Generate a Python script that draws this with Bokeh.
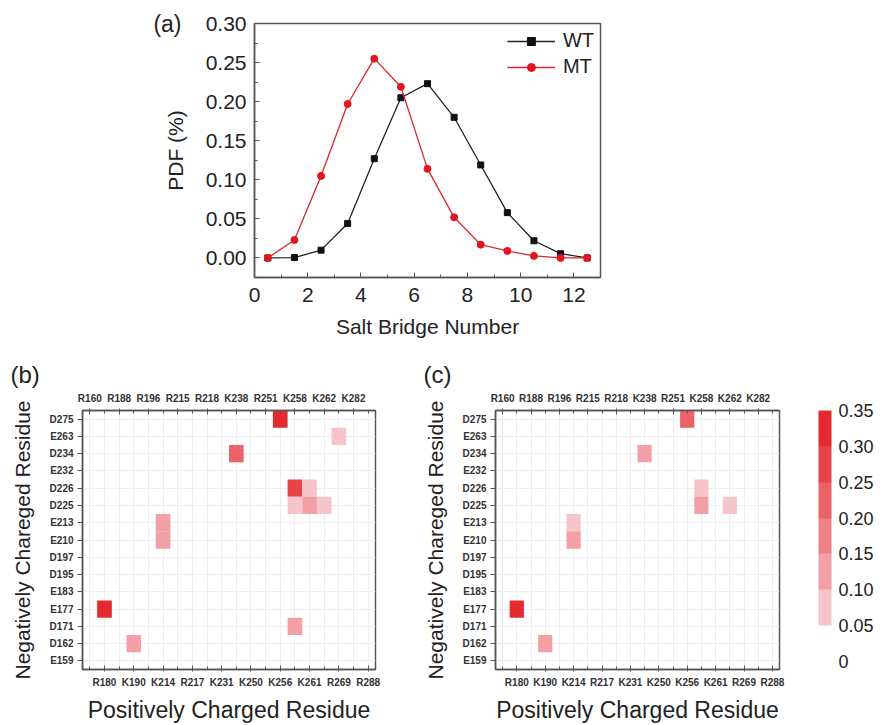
from bokeh.plotting import figure
from bokeh.models import (Range1d, FixedTicker, LinearAxis, Legend, LegendItem, Title,
                          LinearColorMapper, ColorBar, ColumnDataSource, NumeralTickFormatter)
from bokeh.layouts import column, row
from bokeh.embed import file_html
from bokeh.resources import INLINE

# ---------------- data ----------------
salt_bridge_number = [0.5, 1.5, 2.5, 3.5, 4.5, 5.5, 6.5, 7.5, 8.5, 9.5, 10.5, 11.5, 12.5]
wt_pdf = [0.000, 0.0005, 0.010, 0.044, 0.127, 0.205, 0.223, 0.180, 0.119, 0.058, 0.022, 0.0055, 0.000]
mt_pdf = [0.000, 0.023, 0.105, 0.197, 0.255, 0.219, 0.114, 0.052, 0.017, 0.009, 0.0026, 0.000, 0.000]

pos_residues = ["R160", "R180", "R188", "K190", "R196", "K214", "R215", "R217", "R218", "K231",
                "K238", "K250", "R251", "K256", "K258", "K261", "K262", "R269", "K282", "R288"]
neg_residues = ["E159", "D162", "D171", "E177", "E183", "D195", "D197", "E210", "E213", "D225",
                "D226", "E232", "D234", "E263", "D275"]

wt_pos = ["K256", "R269", "K238", "K258", "K261", "K258", "K261", "K262", "K214", "K214", "R180", "K258", "K190"]
wt_neg = ["D275", "E263", "D234", "D226", "D226", "D225", "D225", "D225", "E213", "E210", "E177", "D171", "D162"]
wt_val = [0.32, 0.07, 0.22, 0.27, 0.07, 0.07, 0.13, 0.07, 0.12, 0.12, 0.32, 0.13, 0.13]

mt_pos = ["K256", "K238", "K258", "K258", "K262", "K214", "K214", "R180", "K190"]
mt_neg = ["D275", "D234", "D226", "D225", "D225", "E213", "E210", "E177", "D162"]
mt_val = [0.22, 0.13, 0.07, 0.13, 0.07, 0.07, 0.13, 0.33, 0.13]

cbar_ticks = [0, 0.05, 0.10, 0.15, 0.20, 0.25, 0.30, 0.35]
palette = ["#ffffff", "#f6c5c9", "#f2a0a6", "#ee8187", "#eb6368", "#e7444a", "#e42a2e"]

FONT = "Liberation Sans"
AX = "#555555"
TXT = "#222222"

# ---------------- (a) line chart ----------------
p1 = figure(width=880, height=345, x_range=Range1d(0, 13), y_range=Range1d(-0.025, 0.30),
            output_backend="svg", toolbar_location=None,
            min_border_left=254, min_border_right=280, min_border_top=23, min_border_bottom=68)
p1.grid.visible = False
p1.outline_line_color = AX
p1.outline_line_width = 1.5

l_wt = p1.line(salt_bridge_number, wt_pdf, line_color="#222222", line_width=1.3)
m_wt = p1.scatter(salt_bridge_number, wt_pdf, marker="square", size=6, fill_color="#111111", line_color="#111111")
l_mt = p1.line(salt_bridge_number, mt_pdf, line_color="#d9272e", line_width=1.3)
m_mt = p1.scatter(salt_bridge_number, mt_pdf, marker="circle", size=7, fill_color="#e0161e", line_color="#e0161e")

for ax in (p1.below[0], p1.left[0]):
    ax.axis_line_color = AX
    ax.axis_line_width = 1.5
    ax.major_tick_line_color = AX
    ax.minor_tick_line_color = AX
    ax.major_tick_in = 5
    ax.major_tick_out = 0
    ax.minor_tick_in = 3
    ax.minor_tick_out = 0
    ax.major_label_text_font = FONT
    ax.major_label_text_font_size = "21px"
    ax.major_label_text_color = TXT
    ax.axis_label_text_font = FONT
    ax.axis_label_text_font_size = "21px"
    ax.axis_label_text_font_style = "normal"
    ax.axis_label_text_color = TXT

p1.below[0].ticker = FixedTicker(ticks=[0, 2, 4, 6, 8, 10, 12], minor_ticks=[1, 3, 5, 7, 9, 11, 13])
p1.left[0].ticker = FixedTicker(ticks=[0, 0.05, 0.10, 0.15, 0.20, 0.25, 0.30],
                                minor_ticks=[-0.025, 0.025, 0.075, 0.125, 0.175, 0.225, 0.275])
p1.left[0].formatter = NumeralTickFormatter(format="0.00")
p1.below[0].axis_label = "Salt Bridge Number"
p1.left[0].axis_label = "PDF (%)"
p1.below[0].major_label_standoff = 10
p1.left[0].major_label_standoff = 8
p1.below[0].axis_label_standoff = 10
p1.left[0].axis_label_standoff = 16

# panel tag "(a)" drawn as an outer, line-less axis label level with the top of the frame
tag_axis = LinearAxis(ticker=FixedTicker(ticks=[0.30]), major_label_overrides={0.3: "(a)"},
                      axis_line_color=None, major_tick_line_color=None, minor_tick_line_color=None,
                      major_label_standoff=-27, major_label_text_font=FONT,
                      major_label_text_font_size="23px", major_label_text_color=TXT)
p1.add_layout(tag_axis, "left")

legend = Legend(items=[LegendItem(label="WT", renderers=[l_wt, m_wt]),
                       LegendItem(label="MT", renderers=[l_mt, m_mt])],
                location="top_right", border_line_color=None, background_fill_alpha=0,
                label_text_font=FONT, label_text_font_size="20px", label_text_color=TXT,
                glyph_width=48, spacing=3, margin=6, padding=4, label_standoff=8)
p1.add_layout(legend)

# ---------------- heatmaps ----------------
mapper = LinearColorMapper(palette=palette, low=0, high=0.35)


def heatmap(pos, neg, val, tag, left, right, total_w):
    p = figure(width=total_w, height=380, x_range=Range1d(-0.5, 19.5), y_range=Range1d(-0.5, 14.5),
               output_backend="svg", toolbar_location=None,
               min_border_left=left, min_border_right=right, min_border_top=65, min_border_bottom=56)
    src = ColumnDataSource(dict(x=[pos_residues.index(a) for a in pos],
                                y=[neg_residues.index(b) for b in neg], v=val))
    p.rect("x", "y", width=1, height=1, source=src,
           fill_color={"field": "v", "transform": mapper}, line_color=None)
    p.outline_line_color = AX
    p.outline_line_width = 1.5
    p.xgrid.ticker = FixedTicker(ticks=list(range(20)))
    p.ygrid.ticker = FixedTicker(ticks=list(range(15)))
    p.grid.grid_line_color = "#eeeeee"
    p.grid.grid_line_width = 1

    odd = [i for i in range(20) if i % 2 == 1]
    even = [i for i in range(20) if i % 2 == 0]
    bottom = p.below[0]
    leftax = p.left[0]
    bottom.ticker = FixedTicker(ticks=odd, minor_ticks=even)
    bottom.major_label_overrides = {i: pos_residues[i] for i in odd}
    top = LinearAxis(ticker=FixedTicker(ticks=even, minor_ticks=odd),
                     major_label_overrides={i: pos_residues[i] for i in even})
    p.add_layout(top, "above")
    leftax.ticker = FixedTicker(ticks=list(range(15)))
    leftax.major_label_overrides = {i: neg_residues[i] for i in range(15)}

    for ax in (bottom, top, leftax):
        ax.axis_line_color = AX
        ax.axis_line_width = 1.5
        ax.major_tick_line_color = AX
        ax.minor_tick_line_color = AX
        ax.major_label_text_font = FONT
        ax.major_label_text_font_size = "10px"
        ax.major_label_text_font_style = "bold"
        ax.major_label_text_color = "#333333"
        ax.axis_label_text_font = FONT
        ax.axis_label_text_font_style = "normal"
        ax.axis_label_text_color = TXT
    for ax in (bottom, top):
        ax.major_tick_in = 4
        ax.major_tick_out = 2
        ax.minor_tick_in = 3
        ax.minor_tick_out = 0
        ax.major_label_standoff = 5
    leftax.major_tick_in = 0
    leftax.major_tick_out = 5
    leftax.minor_tick_line_color = None
    leftax.major_label_standoff = 4
    bottom.axis_label = "Positively Charged Residue"
    bottom.axis_label_text_font_size = "23px"
    leftax.axis_label = "Negatively Chareged Residue"
    leftax.axis_label_text_font_size = "21px"
    bottom.axis_label_standoff = 6
    leftax.axis_label_standoff = 13
    p.add_layout(Title(text=tag, align="left", offset=-72, text_font=FONT, text_font_size="24px",
                       text_font_style="normal", text_color=TXT, standoff=4), "above")
    return p


p2 = heatmap(wt_pos, wt_neg, wt_val, "(b)", 82, 45, 420)
p3 = heatmap(mt_pos, mt_neg, mt_val, "(c)", 70, 101, 460)

cbar = ColorBar(color_mapper=mapper, ticker=FixedTicker(ticks=cbar_ticks),
                formatter=NumeralTickFormatter(format="0.00"),
                major_label_overrides={0: "0"},
                width=13, height=251, location=(39, 8), margin=0, padding=0,
                bar_line_color=None, major_tick_line_color=None, minor_tick_line_color=None,
                label_standoff=7, major_label_text_font=FONT, major_label_text_font_size="18px",
                major_label_text_color=TXT, background_fill_alpha=0, border_line_color=None)
p3.add_layout(cbar, "right")

layout = column(p1, row(p2, p3, spacing=0), spacing=0)
open("out.html", "w").write(file_html(layout, INLINE))
